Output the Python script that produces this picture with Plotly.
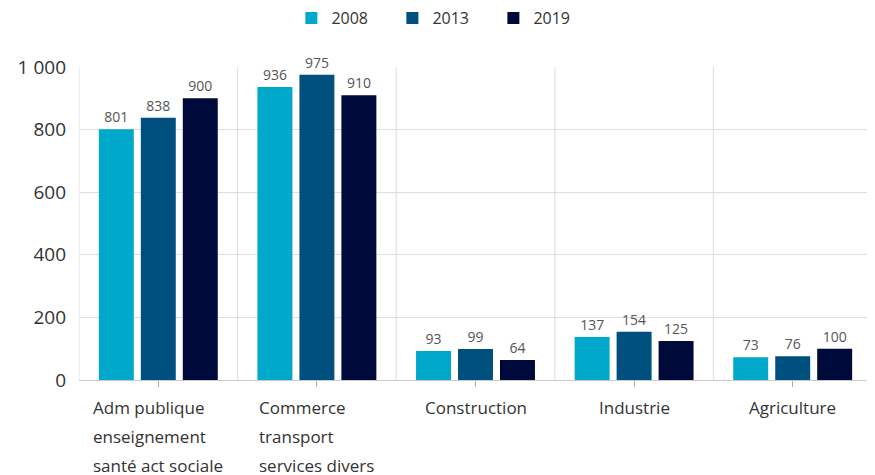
import plotly.graph_objects as go

categories = ["Adm publique<br>enseignement<br>santé act sociale",
              "Commerce<br>transport<br>services divers",
              "Construction", "Industrie", "Agriculture"]
years = ["2008", "2013", "2019"]
v2008 = [801, 936, 93, 137, 73]
v2013 = [838, 975, 99, 154, 76]
v2019 = [900, 910, 64, 125, 100]
y_ticks = [0, 200, 400, 600, 800, 1000]

colors = ["#00A9CB", "#00507F", "#000A3A"]
FONT = "Open Sans"

fig = go.Figure()
for name, vals, col in zip(years, [v2008, v2013, v2019], colors):
    fig.add_trace(go.Bar(
        x=list(range(len(categories))), y=vals, name=name,
        marker=dict(color=col, line=dict(width=0)),
        text=[str(v) for v in vals], textposition="outside",
        textfont=dict(family=FONT, size=14, color="#555555"),
        cliponaxis=False,
    ))

shapes = []
for i in range(len(categories) + 1):
    shapes.append(dict(type="line", xref="x", yref="paper",
                       x0=i - 0.5, x1=i - 0.5, y0=0, y1=1,
                       line=dict(color="#DDDDDD", width=1), layer="below"))

annotations = []
for i, c in enumerate(categories):
    txt = "<br>".join(f"<span style='font-size:17px'>{ln}</span>" for ln in c.split("<br>"))
    annotations.append(dict(x=i, y=0, xref="x", yref="y", text=txt,
                            showarrow=False, xanchor="center", yanchor="top",
                            align="left", yshift=-14,
                            font=dict(family=FONT, size=22.3, color="#333333")))

fig.update_layout(
    width=875, height=475,
    margin=dict(l=71, r=11, t=59, b=103, autoexpand=False),
    paper_bgcolor="white", plot_bgcolor="white",
    separators=", ",
    barmode="group", bargap=0.206, bargroupgap=0.167,
    font=dict(family=FONT, color="#333333"),
    legend=dict(orientation="h", xref="container", x=0.497, xanchor="center",
                yref="container", y=0.979, yanchor="middle",
                font=dict(family=FONT, size=16, color="#333333"),
                entrywidth=56, entrywidthmode="pixels"),
    xaxis=dict(range=[-0.5, len(categories) - 0.5], tickmode="array",
               tickvals=list(range(len(categories))), ticktext=[""] * len(categories),
               showgrid=False, zeroline=False, showline=True, linecolor="#CCCCCC",
               ticks="outside", ticklen=6, tickcolor="#AAAAAA", fixedrange=True,
               automargin=False),
    yaxis=dict(range=[0, 1000], tickvals=y_ticks, tickformat=",d",
               showgrid=True, gridcolor="#DDDDDD", zeroline=False,
               tickfont=dict(family=FONT, size=19, color="#333333"),
               ticks="", ticklabelstandoff=12, automargin=False),
    shapes=shapes, annotations=annotations,
    showlegend=True,
)

fig.write_html("out.html")
